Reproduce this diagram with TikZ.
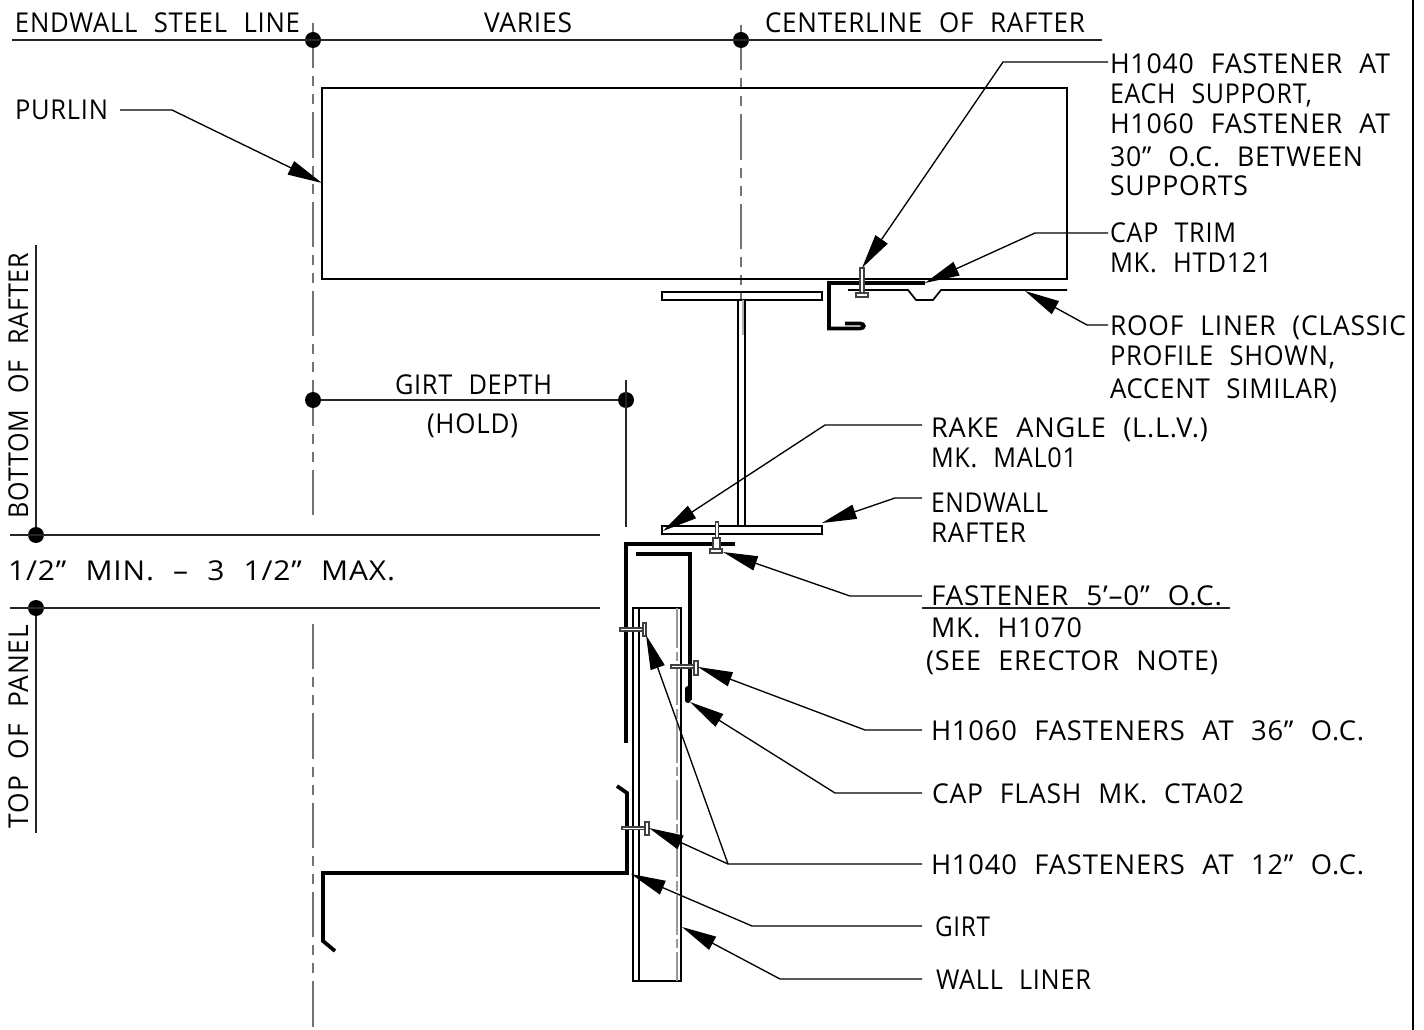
\documentclass[tikz,border=0pt]{standalone}
\usepackage{graphicx}
\usepackage{fontspec}
\setmainfont{Open Sans}[LetterSpace=3,WordSpace=2.2]
\usetikzlibrary{arrows.meta}
\newcommand{\wt}[2]{\resizebox{\dimexpr #1pt*3/4\relax}{\height}{#2}}
\tikzset{
 x=0.75pt,y=-0.75pt,
 lbl/.style={anchor=base west,inner sep=0pt,outer sep=0pt,font=\fontsize{20.5pt}{20.5pt}\selectfont,black},
 rlbl/.style={lbl,rotate=90},
 thin line/.style={line width=1pt,black!85},
 med line/.style={line width=1.3pt,black},
 thick line/.style={line width=2.8pt,black,line join=miter},
 center line/.style={line width=1.3pt,black!55,dash pattern=on 34pt off 6pt on 7.5pt off 6pt on 7.5pt off 6pt},
 ghost/.style={line width=0.8pt,black!40,dash pattern=on 30pt off 3pt on 7pt off 3pt},
 leader/.style={line width=1pt,black,-{Triangle[length=26pt,width=11pt]}},
 dimdot/.style={circle,fill=black,inner sep=0pt,minimum size=12pt,outer sep=0pt},
 bolt/.style={line width=0.9pt,draw=black!75,fill=white},
}
\begin{document}
\begin{tikzpicture}
\useasboundingbox (0,0) rectangle (1424,1030);
\coordinate (b1) at (1413,0); \coordinate (b2) at (1413,1030);
\draw[line width=1.2pt,black] (b1) -- (b2);
% centre lines
\coordinate (cla1) at (313,23); \coordinate (cla2) at (313,515);
\coordinate (cla3) at (313,624); \coordinate (cla4) at (313,1030);
\coordinate (clb1) at (741,25); \coordinate (clb2) at (741,300);
\draw[center line] (cla1) -- (cla2);
\draw[center line] (cla3) -- (cla4);
\draw[center line] (clb1) -- (clb2);
% dimension lines
\node[dimdot] (d1) at (313,40) {};
\node[dimdot] (d2) at (741,40) {};
\node[dimdot] (d3) at (313,400) {};
\node[dimdot] (d4) at (626,400) {};
\node[dimdot] (d5) at (36,535) {};
\node[dimdot] (d6) at (36,608) {};
\coordinate (e1) at (12,40); \coordinate (e2) at (1102,40);
\draw[thin line] (e1) -- (e2);
\draw[thin line] (d3) -- (d4);
\coordinate (e3) at (626,380); \coordinate (e4) at (626,527);
\draw[thin line] (e3) -- (e4);
\coordinate (e5) at (10,535); \coordinate (e6) at (600,535);
\coordinate (e7) at (10,608); \coordinate (e8) at (600,608);
\draw[thin line] (e5) -- (e6);
\draw[thin line] (e7) -- (e8);
\coordinate (e9) at (36,245); \coordinate (e10) at (36,833);
\draw[thin line] (e9) -- (d5);
\draw[thin line] (d6) -- (e10);
% purlin
\draw[med line] (322,88) rectangle (1067,279);
% rafter
\draw[med line] (662,292) rectangle (822,300);
\draw[line width=2pt,black!30] (743,300) -- (743,335);
\draw[med line] (738,300) -- (738,526) (745,300) -- (745,526);
\draw[med line] (662,526) rectangle (822,534);
% cap trim and roof liner
\draw[thick line] (925,283) -- (829,283) -- (829,328.5) -- (860,328.5) .. controls (865,328.5) and (865,323.5) .. (860,323.5) -- (845,323.5);
\draw[med line] (848,290) -- (908,290) -- (916,300) -- (933,300) -- (941,290) -- (1067,290);
% cap flash
\draw[thick line] (735,544) -- (626,544) -- (626,743);
\draw[thick line] (636,554) -- (690,554) -- (690,700);
\draw[line width=4.5pt,black,line cap=round] (687.5,689) -- (687.5,700);
% wall liner
\draw[med line] (633,608) rectangle (681,981);
\draw[med line] (639,608) -- (639,981);
\draw[ghost] (677,608) -- (677,981);
% girt
\draw[thick line] (617,786) -- (627,793) -- (627,873) -- (323,873) -- (323,941) -- (335,951);
% fasteners
\draw[bolt] (860,268) rectangle (864,293);
\draw[bolt] (856,293) rectangle (868,297);
\draw[bolt] (715.5,522) rectangle (718.5,538);
\draw[bolt] (713,538) rectangle (720,549);
\draw[bolt] (710,549) rectangle (722,553);
\draw[bolt] (620,628) rectangle (644,631);
\draw[bolt] (643,623) rectangle (646,636);
\draw[bolt] (671,665) rectangle (695,668);
\draw[bolt] (694,661) rectangle (698,675);
\draw[bolt] (622,827) rectangle (645,829.5);
\draw[bolt] (645,822) rectangle (649,835);
% labels
\node[lbl] (t1) at (15,32.5) {\wt{285}{ENDWALL STEEL LINE}};
\node[lbl] (t2) at (484,32.5) {\wt{88}{VARIES}};
\node[lbl] (t3) at (765,32.5) {\wt{320}{CENTERLINE OF RAFTER}};
\node[lbl] (purlin) at (15,119.5) {\wt{93}{PURLIN}};
\node[lbl] (h1040a) at (1110,73.5) {\wt{280}{H1040 FASTENER AT}};
\node[lbl] (t5) at (1110,103.5) {\wt{202}{EACH SUPPORT,}};
\node[lbl] (t6) at (1110,133.5) {\wt{280}{H1060 FASTENER AT}};
\node[lbl] (t7) at (1110,166.5) {\wt{253}{30” O.C. BETWEEN}};
\node[lbl] (t8) at (1110,195.5) {\wt{138}{SUPPORTS}};
\node[lbl] (captrim) at (1110,242.5) {\wt{126}{CAP TRIM}};
\node[lbl] (t10) at (1110,272.5) {\wt{162}{MK. HTD121}};
\node[lbl] (roof) at (1110,335.5) {\wt{296}{ROOF LINER (CLASSIC}};
\node[lbl] (t12) at (1110,365.5) {\wt{225}{PROFILE SHOWN,}};
\node[lbl] (t13) at (1110,398.5) {\wt{227}{ACCENT SIMILAR)}};
\node[lbl] (t14) at (395,394.5) {\wt{157}{GIRT DEPTH}};
\node[lbl] (t15) at (427,433.5) {\wt{91}{(HOLD)}};
\node[lbl] (rake) at (931,437.5) {\wt{277}{RAKE ANGLE (L.L.V.)}};
\node[lbl] (t17) at (931,467.5) {\wt{146}{MK. MAL01}};
\node[lbl] (endw) at (931,512.5) {\wt{117}{ENDWALL}};
\node[lbl] (t19) at (931,542.5) {\wt{95}{RAFTER}};
\node[lbl] (fast) at (931,605.5) {\wt{291}{FASTENER 5’–0” O.C.}};
\node[lbl] (t21) at (931,637.5) {\wt{151}{MK. H1070}};
\node[lbl] (t22) at (926,670.5) {\wt{292}{(SEE ERECTOR NOTE)}};
\node[lbl] (h1060) at (931,740.5) {\wt{433}{H1060 FASTENERS AT 36” O.C.}};
\node[lbl] (flash) at (932,803.5) {\wt{312}{CAP FLASH MK. CTA02}};
\node[lbl] (h1040b) at (931,874.5) {\wt{433}{H1040 FASTENERS AT 12” O.C.}};
\node[lbl] (girt) at (935,936.5) {\wt{55}{GIRT}};
\node[lbl] (wall) at (936,989.5) {\wt{155}{WALL LINER}};
\node[lbl] (t28) at (8,580.5) {\wt{387}{1/2” MIN. – 3 1/2” MAX.}};
\node[rlbl] (t29) at (28,518) {\wt{265}{BOTTOM OF RAFTER}};
\node[rlbl] (t30) at (28,828) {\wt{203}{TOP OF PANEL}};
% fastener underline
\coordinate (u1) at (922,608); \coordinate (u2) at (1230,608);
\draw[thin line] (u1) -- (u2);
% leaders
\coordinate (p1s) at (120,110); \coordinate (p1m) at (172,110); \coordinate (p1t) at (322,183);
\draw[leader] (p1s) -- (p1m) -- (p1t);
\coordinate (p2s) at (1108,62); \coordinate (p2m) at (1003,62); \coordinate (p2t) at (862,268);
\draw[leader] (p2s) -- (p2m) -- (p2t);
\coordinate (p3s) at (1108,233); \coordinate (p3m) at (1035,233); \coordinate (p3t) at (925,283);
\draw[leader] (p3s) -- (p3m) -- (p3t);
\coordinate (p4s) at (1108,325); \coordinate (p4m) at (1087,325); \coordinate (p4t) at (1025,291);
\draw[leader] (p4s) -- (p4m) -- (p4t);
\coordinate (p5s) at (922,425); \coordinate (p5m) at (825,425); \coordinate (p5t) at (663,531);
\draw[leader] (p5s) -- (p5m) -- (p5t);
\coordinate (p6s) at (922,498); \coordinate (p6m) at (895,498); \coordinate (p6t) at (822,523);
\draw[leader] (p6s) -- (p6m) -- (p6t);
\coordinate (p7s) at (922,596); \coordinate (p7m) at (850,596); \coordinate (p7t) at (723,552);
\draw[leader] (p7s) -- (p7m) -- (p7t);
\coordinate (p8s) at (922,730); \coordinate (p8m) at (865,730); \coordinate (p8t) at (698,667);
\draw[leader] (p8s) -- (p8m) -- (p8t);
\coordinate (p9s) at (922,793); \coordinate (p9m) at (835,793); \coordinate (p9t) at (690,702);
\draw[leader] (p9s) -- (p9m) -- (p9t);
\coordinate (p10s) at (922,864); \coordinate (p10m) at (728,864); \coordinate (p10t) at (649,828); \coordinate (p10u) at (646,635);
\draw[leader] (p10s) -- (p10m) -- (p10t);
\draw[leader] (p10m) -- (p10u);
\coordinate (p11s) at (922,926); \coordinate (p11m) at (752,926); \coordinate (p11t) at (631,874);
\draw[leader] (p11s) -- (p11m) -- (p11t);
\coordinate (p12s) at (922,979); \coordinate (p12m) at (780,979); \coordinate (p12t) at (682,927);
\draw[leader] (p12s) -- (p12m) -- (p12t);
\end{tikzpicture}
\end{document}
